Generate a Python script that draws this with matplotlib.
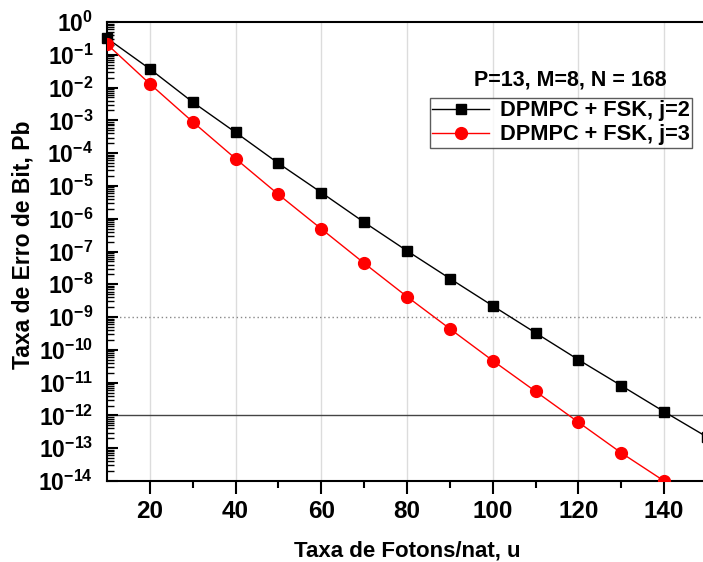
import numpy as np
import matplotlib
matplotlib.use('Agg')
import matplotlib.pyplot as plt
from matplotlib.ticker import LogLocator, FixedLocator, NullFormatter, FuncFormatter

plt.rcParams['font.family'] = ['Liberation Sans', 'DejaVu Sans']
plt.rcParams['font.weight'] = 'bold'
plt.rcParams['mathtext.fontset'] = 'custom'
plt.rcParams['mathtext.rm'] = 'Liberation Sans:bold'
plt.rcParams['mathtext.it'] = 'Liberation Sans:bold'
plt.rcParams['mathtext.bf'] = 'Liberation Sans:bold'
plt.rcParams['mathtext.default'] = 'bf'

# photon rate per nat, u
u_j2 = [10, 20, 30, 40, 50, 60, 70, 80, 90, 100, 110, 120, 130, 140, 150]
pb_j2 = [0.32, 0.037, 3.6e-3, 4.3e-4, 4.9e-5, 6.3e-6, 7.8e-7, 1.05e-7,
         1.5e-8, 2.2e-9, 3.3e-10, 5.0e-11, 8.1e-12, 1.3e-12, 2.2e-13]

u_j3 = [10, 20, 30, 40, 50, 60, 70, 80, 90, 100, 110, 120, 130, 140]
pb_j3 = [0.21, 0.013, 9.0e-4, 6.8e-5, 5.5e-6, 4.9e-7, 4.4e-8, 4.2e-9,
         4.4e-10, 4.7e-11, 5.4e-12, 6.2e-13, 7.2e-14, 1.0e-14]

label_j2 = 'DPMPC + FSK, j=2'
label_j3 = 'DPMPC + FSK, j=3'
params_text = 'P=13, M=8, N = 168'
x_ticks = [20, 40, 60, 80, 100, 120, 140]
ref_dotted = 1e-9
ref_solid = 1e-12

fig = plt.figure(figsize=(7.03, 5.62), dpi=100)
ax = fig.add_axes([107/703, 81/562, 600/703, 459/562])

for xt in x_ticks:
    ax.axvline(xt, color='#dcdcdc', lw=1.0, zorder=0)
ax.axhline(ref_dotted, color='#888888', lw=1.0, ls=(0, (1, 2)), zorder=1)
ax.axhline(ref_solid, color='#444444', lw=1.0, zorder=1)

ax.plot(u_j2, pb_j2, color='black', lw=1.0, marker='s', ms=7.5,
        label=label_j2, zorder=3, clip_on=False)
ax.plot(u_j3, pb_j3, color='red', lw=1.0, marker='o', ms=8.5,
        label=label_j3, zorder=3, clip_on=True)

ax.set_yscale('log')
ax.set_xlim(10, 150)
ax.set_ylim(1e-14, 1)

ax.xaxis.set_major_locator(FixedLocator(x_ticks))
ax.xaxis.set_minor_locator(FixedLocator([30, 50, 70, 90, 110, 130]))
ax.yaxis.set_major_locator(LogLocator(base=10, numticks=20))
ax.yaxis.set_minor_locator(LogLocator(base=10, subs=np.arange(2, 10), numticks=20))
ax.yaxis.set_minor_formatter(NullFormatter())
ax.yaxis.set_major_formatter(FuncFormatter(lambda v, p: r'$10^{%d}$' % int(round(np.log10(v)))))

ax.tick_params(axis='x', which='major', direction='out', length=9, width=1.5,
               labelsize=17.5, pad=5)
ax.tick_params(axis='x', which='minor', direction='out', length=5, width=1.5)
ax.tick_params(axis='y', which='major', direction='in', length=8, width=1.5,
               labelsize=16.5, pad=10)
ax.tick_params(axis='y', which='minor', direction='in', length=5, width=1.0)

for s in ax.spines.values():
    s.set_linewidth(1.5)

ax.set_xlabel('Taxa de Fotons/nat, u', fontsize=16, fontweight='bold', labelpad=12)
ax.set_ylabel('Taxa de Erro de Bit, Pb', fontsize=16.5, fontweight='bold')
ax.yaxis.set_label_coords(-0.12, 0.515)

leg = ax.legend(loc='upper right', bbox_to_anchor=(692/703, 1 - 98/562),
                bbox_transform=fig.transFigure, fontsize=15.7, frameon=True,
                fancybox=False, edgecolor='#333333', borderpad=0.1,
                handlelength=2.6, handletextpad=0.5, labelspacing=0.15,
                borderaxespad=0)
leg.get_frame().set_linewidth(1.0)

fig.text(570/703, 1 - 80/562, params_text, ha='center', va='center',
         fontsize=15.5, fontweight='bold')

fig.savefig('out.png', dpi=100)
